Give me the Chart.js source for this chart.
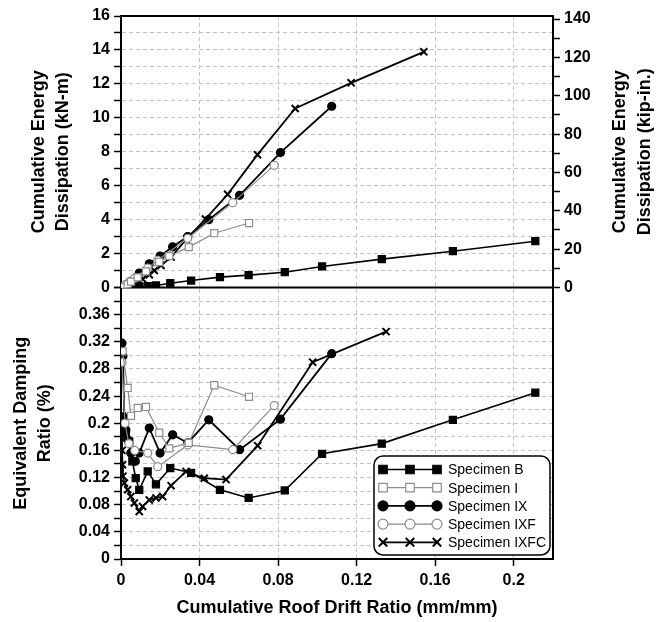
<!DOCTYPE html>
<html>
<head>
<meta charset="utf-8">
<script src="https://cdn.jsdelivr.net/npm/chart.js@4.4.0/dist/chart.umd.min.js"></script>
<style>
html, body { margin: 0; padding: 0; background: #fff; }
</style>
</head>
<body>
<canvas id="grafik" width="666" height="622"></canvas>
<script>
// tick values
const xTicks = [0, 0.04, 0.08, 0.12, 0.16, 0.2]
const kipTicks = [0, 10, 20, 30, 40, 50, 60, 70, 80, 90, 100, 110, 120, 130, 140]
const names = ['Specimen B', 'Specimen I', 'Specimen IX', 'Specimen IXF', 'Specimen IXFC']

// Specimen B
const driftB = [0.0005, 0.0015, 0.0025, 0.0042, 0.0058, 0.0075, 0.0093, 0.0136, 0.0178, 0.0251, 0.0357, 0.0504, 0.065, 0.0834, 0.1024, 0.1328, 0.169, 0.211]
const energyB = [0, 0.01, 0.01, 0.02, 0.03, 0.04, 0.05, 0.08, 0.12, 0.25, 0.41, 0.61, 0.73, 0.9, 1.24, 1.67, 2.14, 2.73]
const dampB = [0.21, 0.2, 0.186, 0.173, 0.144, 0.119, 0.102, 0.129, 0.11, 0.134, 0.127, 0.102, 0.09, 0.101, 0.155, 0.17, 0.205, 0.245]

// Specimen I
const driftI = [0.0008, 0.0034, 0.0051, 0.0085, 0.0127, 0.0195, 0.0246, 0.0345, 0.0475, 0.0652]
const energyI = [0.02, 0.2, 0.35, 0.6, 0.95, 1.5, 1.85, 2.38, 3.2, 3.8]
const dampI = [0.306, 0.252, 0.211, 0.2225, 0.224, 0.186, 0.163, 0.171, 0.256, 0.239]

// Specimen IX
const driftIX = [0.0005, 0.001, 0.0017, 0.0025, 0.0034, 0.005, 0.0073, 0.0093, 0.0144, 0.0199, 0.0263, 0.034, 0.0447, 0.0604, 0.0812, 0.1073]
const energyIX = [0.01, 0.03, 0.07, 0.13, 0.2, 0.35, 0.55, 0.85, 1.4, 1.85, 2.4, 3.0, 4.0, 5.43, 7.95, 10.68]
const dampIX = [0.318, 0.299, 0.208, 0.19, 0.176, 0.156, 0.144, 0.156, 0.193, 0.156, 0.183, 0.171, 0.205, 0.161, 0.206, 0.3025]

// Specimen IXF
const driftIXF = [0.0005, 0.002, 0.004, 0.007, 0.0136, 0.0187, 0.034, 0.0569, 0.078]
const energyIXF = [0.02, 0.12, 0.3, 0.55, 1.15, 1.6, 2.9, 5.0, 7.2]
const dampIXF = [0.29, 0.2, 0.17, 0.16, 0.156, 0.136, 0.168, 0.161, 0.226]

// Specimen IXFC (energy and damping read at slightly different drifts)
const driftIXFC_E = [0.0003, 0.0008, 0.0017, 0.0034, 0.005, 0.0068, 0.0093, 0.011, 0.0144, 0.017, 0.0204, 0.0255, 0.0334, 0.043, 0.0543, 0.0695, 0.0887, 0.1172, 0.1542]
const energyIXFC = [0, 0.02, 0.05, 0.12, 0.2, 0.28, 0.4, 0.5, 0.75, 1.0, 1.3, 1.79, 2.87, 4.03, 5.49, 7.83, 10.55, 12.06, 13.89]
const driftIXFC_D = [0.0003, 0.0005, 0.0008, 0.001, 0.0017, 0.0034, 0.005, 0.0068, 0.0093, 0.011, 0.0144, 0.0178, 0.0212, 0.0255, 0.0331, 0.0424, 0.0535, 0.0696, 0.0976, 0.135]
const dampIXFC = [0.178, 0.16, 0.139, 0.122, 0.112, 0.102, 0.092, 0.0825, 0.07, 0.0775, 0.087, 0.09, 0.092, 0.108, 0.129, 0.119, 0.117, 0.167, 0.29, 0.335]

const KNM_TO_KIPIN = 8.8507
const FONT = 'Liberation Sans, Arial, sans-serif'
const GRAY = '#8c8c8c'

const styles = [
    { pointStyle: 'rect', pointRadius: 5, borderColor: '#000', pointBackgroundColor: '#000', borderWidth: 1.6 },
    { pointStyle: 'rect', pointRadius: 5, borderColor: GRAY, pointBackgroundColor: '#fff', borderWidth: 1.2 },
    { pointStyle: 'circle', pointRadius: 4, borderColor: '#000', pointBackgroundColor: '#000', borderWidth: 1.8 },
    { pointStyle: 'circle', pointRadius: 4, borderColor: GRAY, pointBackgroundColor: '#fff', borderWidth: 1.2 },
    { pointStyle: 'crossRot', pointRadius: 5, borderColor: '#000', pointBackgroundColor: '#000', borderWidth: 1.8 }
]

function pts(xs, ys) {
    return xs.map((x, i) => ({ x: x, y: ys[i] }))
}

function makeSet(idx, xs, ys, axis) {
    const s = styles[idx]
    return {
        label: names[idx],
        data: pts(xs, ys),
        yAxisID: axis,
        borderColor: s.borderColor,
        borderWidth: s.borderWidth,
        pointStyle: s.pointStyle,
        pointRadius: s.pointRadius,
        pointBorderColor: s.borderColor,
        pointBackgroundColor: s.pointBackgroundColor,
        pointBorderWidth: s.pointStyle == 'crossRot' ? 2 : 1.2,
        tension: 0,
        fill: false
    }
}

const datasets = [
    makeSet(1, driftI, energyI, 'yE'),
    makeSet(3, driftIXF, energyIXF, 'yE'),
    makeSet(0, driftB, energyB, 'yE'),
    makeSet(2, driftIX, energyIX, 'yE'),
    makeSet(4, driftIXFC_E, energyIXFC, 'yE'),
    makeSet(1, driftI, dampI, 'yD'),
    makeSet(3, driftIXF, dampIXF, 'yD'),
    makeSet(0, driftB, dampB, 'yD'),
    makeSet(2, driftIX, dampIX, 'yD'),
    makeSet(4, driftIXFC_D, dampIXFC, 'yD')
]

const tickFont = { family: FONT, size: 16, weight: 'bold' }
const titleFont = { family: FONT, size: 18, weight: 'bold', lineHeight: 1.35 }
const gridOpts = { color: '#c4c4c4', lineWidth: 1, tickColor: '#000', tickLength: 7, tickWidth: 1.5 }
const borderOpts = { color: '#000', width: 2, dash: [4, 3] }

// frame, right axis title and legend
const extras = {
    id: 'extras',
    beforeDatasetsDraw(chart) {
        const ctx = chart.ctx
        const a = chart.chartArea
        const mid = chart.scales.yE.bottom
        ctx.save()
        ctx.strokeStyle = '#000'
        ctx.lineWidth = 2
        ctx.strokeRect(a.left, a.top, a.right - a.left, a.bottom - a.top)
        ctx.beginPath()
        ctx.moveTo(a.left, mid)
        ctx.lineTo(a.right, mid)
        ctx.stroke()
        ctx.restore()
    },
    afterDraw(chart) {
        const ctx = chart.ctx
        const yE = chart.scales.yE
        ctx.save()
        // right title
        ctx.fillStyle = '#000'
        ctx.font = 'bold 18px ' + FONT
        ctx.textAlign = 'center'
        ctx.textBaseline = 'middle'
        const cy = (yE.top + yE.bottom) / 2
        const lines = ['Cumulative Energy', 'Dissipation (kip-in.)']
        lines.forEach((t, i) => {
            ctx.save()
            ctx.translate(620 + i * 25, cy)
            ctx.rotate(-Math.PI / 2)
            ctx.fillText(t, 0, 0)
            ctx.restore()
        })
        // legend
        const bx = 374, by = 456, bw = 176, bh = 99
        ctx.beginPath()
        ctx.roundRect(bx, by, bw, bh, 9)
        ctx.fillStyle = '#fff'
        ctx.fill()
        ctx.lineWidth = 1.5
        ctx.strokeStyle = '#000'
        ctx.stroke()
        ctx.font = '14px ' + FONT
        ctx.textAlign = 'left'
        for (let i = 0; i < names.length; i++) {
            const s = styles[i]
            const y = by + 13.5 + i * 18.2
            ctx.strokeStyle = s.borderColor
            ctx.lineWidth = s.borderWidth
            ctx.beginPath()
            ctx.moveTo(383, y)
            ctx.lineTo(437, y)
            ctx.stroke()
            for (const x of [383, 410, 437]) {
                ctx.fillStyle = s.pointBackgroundColor
                ctx.strokeStyle = s.borderColor
                ctx.lineWidth = s.pointStyle == 'crossRot' ? 2 : 1.2
                Chart.helpers.drawPoint(ctx, { pointStyle: s.pointStyle, radius: s.pointRadius + 1, rotation: 0, borderWidth: 1 }, x, y)
            }
            ctx.fillStyle = '#000'
            ctx.fillText(names[i], 448, y + 1)
        }
        ctx.restore()
    }
}

const ctx = document.getElementById('grafik')
const myChart = new Chart(ctx, {
    type: 'line',
    data: { datasets: datasets },
    plugins: [extras],
    options: {
        responsive: false,
        animation: false,
        devicePixelRatio: 1,
        layout: { padding: { top: 16, left: 0, right: 0, bottom: 0 } },
        plugins: { legend: { display: false }, tooltip: { enabled: false } },
        scales: {
            x: {
                type: 'linear',
                min: 0,
                max: 0.22,
                afterBuildTicks: s => { s.ticks = xTicks.map(v => ({ value: v })) },
                afterFit: s => { s.height = 63 },
                ticks: { font: tickFont, color: '#000', padding: 5, maxRotation: 0, autoSkip: false, callback: v => String(Number(v.toFixed(2))) },
                grid: gridOpts,
                border: borderOpts,
                title: { display: true, text: 'Cumulative Roof Drift Ratio (mm/mm)', font: titleFont, color: '#000', padding: { top: 2, bottom: 2 } }
            },
            yD: {
                type: 'linear',
                position: 'left',
                stack: 'left',
                stackWeight: 1,
                min: 0,
                max: 0.4,
                afterFit: s => { s.width = 121 },
                ticks: {
                    stepSize: 0.02, maxTicksLimit: 100, autoSkip: false, font: tickFont, color: '#000', padding: 4,
                    callback: v => (Math.round(v * 100) % 4 == 0 && v < 0.39) ? String(Number(v.toFixed(2))) : ''
                },
                grid: gridOpts,
                border: borderOpts,
                title: { display: true, text: ['Equivalent Damping', 'Ratio (%)'], font: titleFont, color: '#000', padding: { top: 9, bottom: 0 } }
            },
            yE: {
                type: 'linear',
                position: 'left',
                stack: 'left',
                stackWeight: 1,
                min: 0,
                max: 16,
                afterFit: s => { s.width = 121 },
                ticks: { stepSize: 1, maxTicksLimit: 100, autoSkip: false, font: tickFont, color: '#000', padding: 4, callback: v => v % 2 == 0 ? String(v) : '' },
                grid: gridOpts,
                border: borderOpts,
                title: { display: true, text: ['Cumulative Energy', 'Dissipation (kN-m)'], font: titleFont, color: '#000', padding: { top: 27, bottom: 0 } }
            },
            yR: {
                type: 'linear',
                position: 'right',
                stack: 'right',
                stackWeight: 1,
                min: 0,
                max: 16 * KNM_TO_KIPIN,
                afterBuildTicks: s => { s.ticks = kipTicks.map(v => ({ value: v })) },
                afterFit: s => { s.width = 113 },
                ticks: { autoSkip: false, font: tickFont, color: '#000', padding: 4, callback: v => v % 20 == 0 ? String(v) : '' },
                grid: { drawOnChartArea: false, tickColor: '#000', tickLength: 7, tickWidth: 1.5 },
                border: { color: '#000', width: 2 }
            },
            yR2: {
                type: 'linear',
                position: 'right',
                stack: 'right',
                stackWeight: 1,
                min: 0,
                max: 1,
                afterFit: s => { s.width = 113 },
                ticks: { display: false },
                grid: { display: false },
                border: { color: '#000', width: 2 }
            }
        }
    }
})
</script>
</body>
</html>
